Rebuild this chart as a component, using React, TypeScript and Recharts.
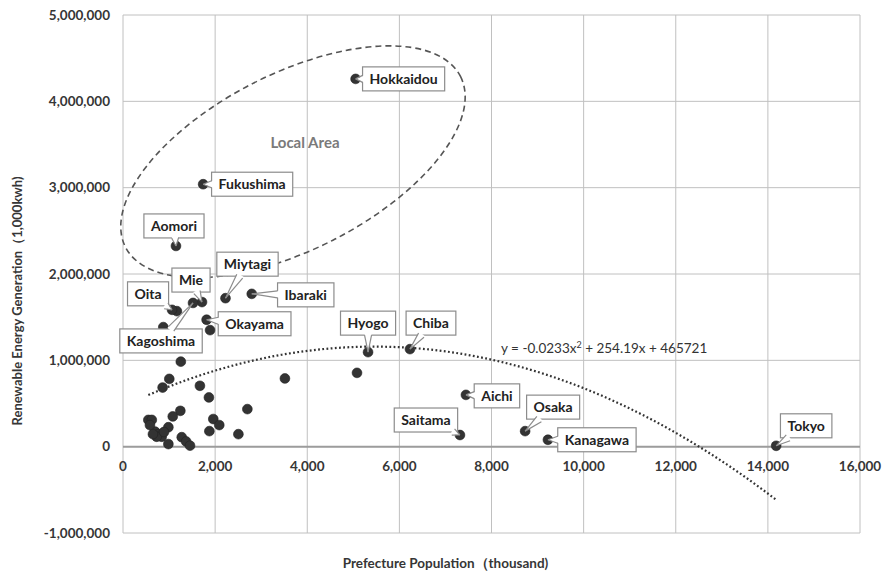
import { ScatterChart, Scatter, XAxis, YAxis, CartesianGrid, ReferenceLine, ReferenceDot, Label } from "recharts";

// prefectures that carry a name callout
const labeledNames = [
  "Hokkaidou", "Fukushima", "Aomori", "Miytagi", "Ibaraki", "Mie", "Kagoshima", "Oita",
  "Okayama", "Hyogo", "Chiba", "Aichi", "Saitama", "Osaka", "Kanagawa", "Tokyo",
];
const labeledPopulation = [5050, 1740, 1150, 2225, 2795, 1715, 1520, 1065, 1815, 5320, 6230, 7445, 7315, 8730, 9225, 14180];
const labeledGeneration = [
  4260000, 3040000, 2325000, 1720000, 1770000, 1675000, 1665000, 1585000,
  1470000, 1095000, 1130000, 600000, 135000, 180000, 80000, 10000,
];

// the remaining prefectures, unlabeled
const otherPopulation = [
  1170, 1890, 875, 1255, 1005, 860, 1670, 1865, 3515, 5080, 2700, 1245, 1080, 550, 625, 1960,
  2090, 985, 695, 765, 840, 730, 1875, 2505, 985, 1275, 1370, 1455, 585, 890, 650,
];
const otherGeneration = [
  1570000, 1350000, 1385000, 985000, 785000, 685000, 705000, 570000, 790000, 855000, 435000,
  415000, 350000, 310000, 310000, 320000, 250000, 225000, 175000, 145000, 115000, 115000,
  180000, 145000, 30000, 110000, 60000, 12000, 250000, 170000, 145000,
];

const xTicks = [0, 2000, 4000, 6000, 8000, 10000, 12000, 14000, 16000];
const yTicks = [-1000000, 0, 1000000, 2000000, 3000000, 4000000, 5000000];

// polynomial trendline y = a*x^2 + b*x + c
const trendA = -0.0233;
const trendB = 254.19;
const trendC = 465721;

// callout box centre relative to its point, px
const calloutOffset: Record<string, [number, number]> = {
  Hokkaidou: [48, 0],
  Fukushima: [49, 0],
  Aomori: [-2, -20],
  Miytagi: [22, -34],
  Ibaraki: [54, 1],
  Mie: [-11, -22],
  Kagoshima: [-32, 38],
  Oita: [-24, -16],
  Okayama: [48, 4],
  Hyogo: [0, -29],
  Chiba: [21, -26],
  Aichi: [31, 1],
  Saitama: [-34, -15],
  Osaka: [28, -24],
  Kanagawa: [49, 0],
  Tokyo: [30, -20],
};

const CHART_W = 884;
const CHART_H = 576;
const MARGIN = { top: 15, right: 24, bottom: 0, left: 0 };
const Y_AXIS_W = 123;
const X_AXIS_H = 43;
const PLOT_H = CHART_H - MARGIN.top - X_AXIS_H;
const X_DOMAIN: [number, number] = [0, 16000];
const Y_DOMAIN: [number, number] = [-1000000, 5000000];

const FONT = "Lato, 'Open Sans', sans-serif";
const TEXT = "#363636";
const POINT = "#333";

const labeledData = labeledNames.map((name, i) => ({ name, x: labeledPopulation[i], y: labeledGeneration[i] }));
const otherData = otherPopulation.map((x, i) => ({ x, y: otherGeneration[i] }));

const allX = [...labeledPopulation, ...otherPopulation];
const trendMin = Math.min(...allX);
const trendMax = Math.max(...allX);
const trendData = Array.from({ length: 81 }, (_, i) => {
  const x = trendMin + ((trendMax - trendMin) * i) / 80;
  return { x, y: trendA * x * x + trendB * x + trendC };
});

const fmt = (v: number) => v.toLocaleString("en-US");

// x tick labels sit under the zero line, not at the bottom of the plot
const zeroShift = (PLOT_H * (0 - Y_DOMAIN[0])) / (Y_DOMAIN[1] - Y_DOMAIN[0]);

function XTick({ x, y, payload }: any) {
  return (
    <text x={x} y={y - zeroShift + 24} textAnchor="middle" fill={TEXT} fontSize={13.5} fontWeight={700} fontFamily={FONT}>
      {fmt(payload.value)}
    </text>
  );
}

let measureCtx: CanvasRenderingContext2D | null = null;
function textWidth(s: string, font: string) {
  if (!measureCtx) measureCtx = document.createElement("canvas").getContext("2d");
  if (!measureCtx) return s.length * 7.5;
  measureCtx.font = font;
  return measureCtx.measureText(s).width;
}

function Dot({ cx, cy }: any) {
  return <circle cx={cx} cy={cy} r={4.9} fill={POINT} stroke="#222" strokeWidth={0.6} />;
}

function Callout({ cx, cy, payload }: any) {
  const name: string = payload.name;
  const [ox, oy] = calloutOffset[name] || [30, -20];
  const w = textWidth(name, `700 14px ${FONT}`) + 14;
  const h = 24;
  const bx = cx + ox;
  const by = cy + oy;
  // where the line from the box centre to the point leaves the box
  const dx = cx - bx;
  const dy = cy - by;
  const sx = dx !== 0 ? w / 2 / Math.abs(dx) : Infinity;
  const sy = dy !== 0 ? h / 2 / Math.abs(dy) : Infinity;
  const s = Math.min(sx, sy);
  const ex = bx + dx * s;
  const ey = by + dy * s;
  const len = Math.hypot(dx, dy) || 1;
  const nx = (-dy / len) * 3.5;
  const ny = (dx / len) * 3.5;
  const ix = (-dx / len) * 1.5;
  const iy = (-dy / len) * 1.5;
  const b1x = ex + nx, b1y = ey + ny;
  const b2x = ex - nx, b2y = ey - ny;
  return (
    <g>
      <circle cx={cx} cy={cy} r={4.9} fill={POINT} stroke="#222" strokeWidth={0.6} />
      <rect x={bx - w / 2} y={by - h / 2} width={w} height={h} fill="#fff" stroke="#8c8c8c" strokeWidth={1.2} />
      <polygon
        points={`${b1x + ix},${b1y + iy} ${cx},${cy} ${b2x + ix},${b2y + iy}`}
        fill="#fff"
        stroke="none"
      />
      <line x1={b1x} y1={b1y} x2={cx} y2={cy} stroke="#8c8c8c" strokeWidth={1.2} />
      <line x1={b2x} y1={b2y} x2={cx} y2={cy} stroke="#8c8c8c" strokeWidth={1.2} />
      <text x={bx} y={by + 5} textAnchor="middle" fill="#222" fontSize={14} fontWeight={700} fontFamily={FONT}>
        {name}
      </text>
    </g>
  );
}

export default function App() {
  return (
    <div style={{ position: "absolute", left: 0, top: 0, width: CHART_W, height: CHART_H, background: "#fff" }}>
      <ScatterChart width={CHART_W} height={CHART_H} margin={MARGIN}>
        <CartesianGrid stroke="#c0c0c0" strokeWidth={1} />
        <XAxis
          type="number"
          dataKey="x"
          domain={X_DOMAIN}
          ticks={xTicks}
          height={X_AXIS_H}
          axisLine={false}
          tickLine={false}
          tickSize={0}
          tickMargin={0}
          tick={<XTick />}
          interval={0}
        >
          <Label
            content={({ viewBox }: any) => (
              <text
                x={viewBox.x + viewBox.width / 2 - 46}
                y={viewBox.y + 35}
                textAnchor="middle"
                fill={TEXT}
                fontSize={13.5}
                fontWeight={700}
                fontFamily={FONT}
              >
                Prefecture Population（thousand)
              </text>
            )}
          />
        </XAxis>
        <YAxis
          type="number"
          dataKey="y"
          domain={Y_DOMAIN}
          ticks={yTicks}
          width={Y_AXIS_W}
          axisLine={false}
          tickLine={false}
          tickSize={0}
          tickMargin={13}
          interval={0}
          tickFormatter={fmt}
          tick={{ fill: TEXT, fontSize: 13.5, fontWeight: 700, fontFamily: FONT }}
        >
          <Label
            content={({ viewBox }: any) => {
              const x = viewBox.x + 17;
              const y = viewBox.y + viewBox.height / 2 + 27;
              return (
                <text
                  x={x}
                  y={y}
                  transform={`rotate(-90 ${x} ${y})`}
                  textAnchor="middle"
                  dominantBaseline="central"
                  fill={TEXT}
                  fontSize={13}
                  fontWeight={700}
                  fontFamily={FONT}
                >
                  Renewable Energy Generation（1,000kwh)
                </text>
              );
            }}
          />
        </YAxis>
        <ReferenceLine y={0} stroke="#9c9c9c" strokeWidth={2} />
        <ReferenceDot
          x={3690}
          y={3300000}
          r={0}
          shape={({ cx, cy }: any) => (
            <ellipse
              cx={cx}
              cy={cy}
              rx={188}
              ry={88}
              transform={`rotate(-27 ${cx} ${cy})`}
              fill="none"
              stroke="#555"
              strokeWidth={1.6}
              strokeDasharray="6 4"
            />
          )}
        />
        <ReferenceDot
          x={3950}
          y={3518000}
          r={0}
          shape={({ cx, cy }: any) => (
            <text x={cx} y={cy + 5} textAnchor="middle" fill="#7a7a7a" fontSize={15} fontWeight={700} fontFamily={FONT}>
              Local Area
            </text>
          )}
        />
        <Scatter
          data={trendData}
          isAnimationActive={false}
          line={{ stroke: "#333", strokeWidth: 2.2, strokeDasharray: "1.8 2.4" }}
          shape={() => <g />}
        />
        <ReferenceDot
          x={8207}
          y={1143000}
          r={0}
          shape={({ cx, cy }: any) => (
            <text x={cx} y={cy + 5} fill="#333" fontSize={13.5} fontFamily={FONT}>
              y = -0.0233x
              <tspan fontSize={9} dy={-5}>2</tspan>
              <tspan dy={5}> + 254.19x + 465721</tspan>
            </text>
          )}
        />
        <Scatter data={otherData} isAnimationActive={false} shape={<Dot />} />
        <Scatter data={labeledData} isAnimationActive={false} shape={<Callout />} />
      </ScatterChart>
    </div>
  );
}
